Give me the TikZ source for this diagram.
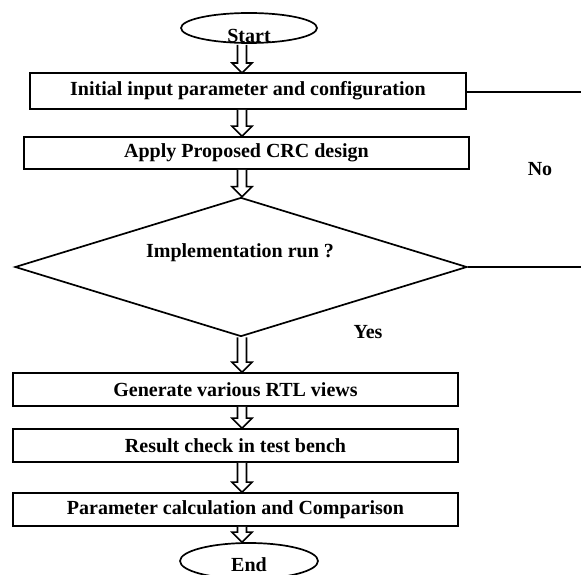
\documentclass[tikz,border=0pt]{standalone}
\usepackage{fontspec}
\setmainfont{Liberation Serif}
\usetikzlibrary{shapes.geometric,calc}
\tikzset{
  lbl/.style={font=\bfseries\fontsize{20}{22}\selectfont, inner sep=0pt},
  procbox/.style={draw, line width=1.7pt, inner sep=0pt},
  term/.style={draw, line width=1.7pt, ellipse, inner sep=0pt},
  flowline/.style={line width=1.5pt},
  hollowarrow/.style={draw, line width=1.6pt, fill=white, line join=miter}
}
\newcommand{\hollowarrow}[2]{%
  \path let \p1=(#1), \p2=(#2) in
    [hollowarrow] (\x1-4.5,\y1) -- (\x1-4.5,\y2+10) -- (\x1-10,\y2+10) -- (\x1,\y2)
    -- (\x1+10,\y2+10) -- (\x1+4.5,\y2+10) -- (\x1+4.5,\y1);
}
\begin{document}
\begin{tikzpicture}[x=1pt,y=-1pt]
\useasboundingbox (0,0) rectangle (581,575);
% start terminal
\node[term, minimum width=136pt, minimum height=30pt] (start) at (249,28) {};
\node[lbl] (starttxt) at (249,36) {Start};
% boxes
\node[procbox, minimum width=436pt, minimum height=36pt] (b1) at (248,91) {};
\node[lbl] at (b1.center) {Initial input parameter and configuration};
\node[procbox, minimum width=445pt, minimum height=32pt] (b2) at (246.5,153) {};
\node[lbl] at (b2.center) {Apply Proposed CRC design};
\node[draw, diamond, aspect=3.27, line width=1.7pt, minimum width=452pt, minimum height=139pt, inner sep=0pt] (dec) at (241,267) {};
\node[lbl] at (240,253) {Implementation run ?};
\node[procbox, minimum width=445pt, minimum height=33pt] (b3) at (235.5,389.5) {};
\node[lbl] at (b3.center) {Generate various RTL views};
\node[procbox, minimum width=445pt, minimum height=33pt] (b4) at (235.5,445.5) {};
\node[lbl] at (b4.center) {Result check in test bench};
\node[procbox, minimum width=445pt, minimum height=33pt] (b5) at (235.5,509.5) {};
\node[lbl] at (b5.center) {Parameter calculation and Comparison};
% end terminal
\node[term, minimum width=138pt, minimum height=36pt] (endt) at (249,561) {};
\node[lbl] at (249,565) {End};
% labels
\node[lbl] (no) at (540,169) {No};
\node[lbl] (yes) at (368,332) {Yes};
% right lines
\coordinate (r1) at (581,92);
\coordinate (r2) at (581,267);
\draw[flowline] (b1.east |- r1) -- (r1);
\draw[flowline] (dec.east) -- (r2);
% hollow arrows
\coordinate (a0s) at (242,45);
\coordinate (a0e) at (242,73);
\hollowarrow{a0s}{a0e}
\hollowarrow{b1.south -| a0s}{b2.north -| a0s}
\hollowarrow{b2.south -| a0s}{dec.north -| a0s}
\hollowarrow{dec.south -| a0s}{b3.north -| a0s}
\hollowarrow{b3.south -| a0s}{b4.north -| a0s}
\hollowarrow{b4.south -| a0s}{b5.north -| a0s}
\hollowarrow{b5.south -| a0s}{endt.north -| a0s}
\end{tikzpicture}
\end{document}
